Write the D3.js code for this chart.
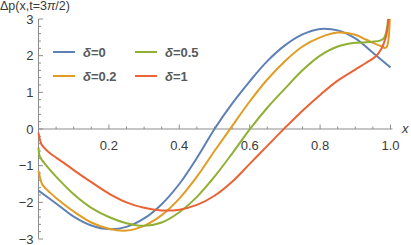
<!DOCTYPE html>
<html><head><meta charset="utf-8">
<script src="https://cdn.jsdelivr.net/npm/d3@7"></script>
<style>html,body{margin:0;padding:0;background:#fff;}svg{display:block;font-family:"Liberation Sans",Arial,sans-serif;}</style>
</head><body>
<svg id="c" width="411" height="245"></svg>
<script>
// ---- data ----
const seriesNames = ["δ=0", "δ=0.2", "δ=0.5", "δ=1"];
const seriesColors = ["#5E81B5", "#E19C24", "#8FB032", "#EB6235"];
const d0x = [0, 0.05, 0.1, 0.15, 0.2, 0.25, 0.3, 0.35, 0.4, 0.45, 0.5, 0.55, 0.6, 0.65, 0.7, 0.75, 0.8, 0.85, 0.9, 0.95, 1.0];
const d0y = [-1.68, -2.03, -2.39, -2.63, -2.73, -2.67, -2.44, -2.05, -1.50, -0.79, 0.0, 0.69, 1.30, 1.85, 2.28, 2.58, 2.73, 2.69, 2.47, 2.08, 1.68];
const d02x = [0, 0.005, 0.01, 0.02, 0.03, 0.05, 0.1, 0.15, 0.2, 0.25, 0.3, 0.35, 0.4, 0.45, 0.5, 0.55, 0.6, 0.65, 0.7, 0.75, 0.8, 0.85, 0.9, 0.93, 0.95, 0.97, 0.985, 0.99, 0.995, 0.998, 1.0];
const d02y = [-1.14, -1.35, -1.5, -1.62, -1.71, -1.88, -2.25, -2.55, -2.72, -2.77, -2.64, -2.35, -1.9, -1.3, -0.6, 0.08, 0.75, 1.35, 1.85, 2.25, 2.5, 2.63, 2.57, 2.44, 2.35, 2.27, 2.21, 2.25, 2.5, 3.0, 3.4];
const d05x = [0, 0.003, 0.01, 0.02, 0.05, 0.1, 0.15, 0.2, 0.25, 0.3, 0.35, 0.4, 0.45, 0.5, 0.55, 0.6, 0.65, 0.7, 0.75, 0.8, 0.85, 0.9, 0.95, 0.97, 0.98, 0.985, 0.99, 0.993, 1.0];
const d05y = [-0.5, -0.73, -0.85, -0.97, -1.3, -1.78, -2.15, -2.4, -2.57, -2.64, -2.55, -2.27, -1.85, -1.3, -0.67, -0.01, 0.58, 1.1, 1.6, 2.0, 2.25, 2.35, 2.38, 2.41, 2.46, 2.55, 2.75, 3.0, 3.6];
const d1x = [0, 0.003, 0.008, 0.015, 0.03, 0.05, 0.07, 0.1, 0.15, 0.2, 0.25, 0.3, 0.35, 0.4, 0.45, 0.5, 0.55, 0.6, 0.65, 0.7, 0.75, 0.8, 0.85, 0.9, 0.93, 0.96, 0.975, 0.985, 0.99, 0.995, 1.0];
const d1y = [-0.1, -0.25, -0.41, -0.5, -0.64, -0.78, -0.91, -1.12, -1.45, -1.76, -2.0, -2.15, -2.22, -2.2, -2.07, -1.82, -1.44, -0.95, -0.46, 0.03, 0.5, 0.93, 1.32, 1.62, 1.8, 2.0, 2.2, 2.45, 2.65, 3.0, 3.5];
const xTickLabels = ["0.2", "0.4", "0.6", "0.8", "1.0"];
const yTickLabels = ["-3", "-2", "-1", "0", "1", "2", "3"];

// ---- layout ----
const svg = d3.select("#c");
const x = d3.scaleLinear().domain([0, 1]).range([38.5, 390.5]);
const y = d3.scaleLinear().domain([-3, 3]).range([239, 19]);
const axisColor = "#8c8c8c";
const labelColor = "#3a3a3a";

svg.append("defs").append("clipPath").attr("id", "clip")
  .append("rect").attr("x", x(0) - 2).attr("y", y(3)).attr("width", x(1) - x(0) + 6).attr("height", y(-3) - y(3));

// x axis at y=0
const xAxisG = svg.append("g").attr("transform", `translate(0,${y(0)})`);
xAxisG.append("line").attr("x1", x(0)).attr("x2", x(1) + 2).attr("stroke", axisColor).attr("stroke-width", 1);
const xMinor = d3.range(1, 21).map(i => i * 0.05);
xAxisG.selectAll("line.t").data(xMinor).join("line").attr("class", "t")
  .attr("x1", d => x(d)).attr("x2", d => x(d))
  .attr("y1", 0).attr("y2", (d, i) => ((i + 1) % 4 === 0) ? -4.5 : -2.5)
  .attr("stroke", axisColor).attr("stroke-width", 1);
xAxisG.selectAll("text").data(xTickLabels).join("text")
  .attr("x", d => x(+d)).attr("y", 21)
  .attr("text-anchor", "middle").attr("font-size", 13).attr("fill", labelColor)
  .text(d => d);
svg.append("text").attr("x", 402).attr("y", y(0) + 4).attr("font-size", 13)
  .attr("font-style", "italic").attr("fill", labelColor).text("x");

// y axis at x=0
const yAxisG = svg.append("g").attr("transform", `translate(${x(0)},0)`);
yAxisG.append("line").attr("y1", y(-3)).attr("y2", y(3)).attr("stroke", axisColor).attr("stroke-width", 1);
const yMinor = d3.range(0, 31).map(i => -3 + i * 0.2);
yAxisG.selectAll("line.t").data(yMinor).join("line").attr("class", "t")
  .attr("y1", d => y(d)).attr("y2", d => y(d))
  .attr("x1", 0).attr("x2", (d, i) => (i % 5 === 0) ? 4.5 : 2.5)
  .attr("stroke", axisColor).attr("stroke-width", 1);
yAxisG.selectAll("text").data(yTickLabels).join("text")
  .attr("x", -5).attr("y", d => y(+d) + 4.5)
  .attr("text-anchor", "end").attr("font-size", 13).attr("fill", labelColor)
  .text(d => d.replace("-", "\u2212"));

// title
const tt = svg.append("text").attr("x", 0).attr("y", 10).attr("font-size", 12.5).attr("fill", labelColor);
tt.append("tspan").text("Δp(x,t=3");
tt.append("tspan").attr("font-style", "italic").text("π");
tt.append("tspan").text("/2)");

// curves
const seriesData = [
  d0x.map((v, i) => [v, d0y[i]]),
  d02x.map((v, i) => [v, d02y[i]]),
  d05x.map((v, i) => [v, d05y[i]]),
  d1x.map((v, i) => [v, d1y[i]])
];
const line = d3.line().x(d => x(d[0])).y(d => y(d[1])).curve(d3.curveCatmullRom.alpha(0.5));
const plot = svg.append("g").attr("clip-path", "url(#clip)");
plot.selectAll("path").data(seriesData).join("path")
  .attr("d", line).attr("fill", "none")
  .attr("stroke", (d, i) => seriesColors[i]).attr("stroke-width", 2)
  .attr("stroke-linejoin", "round");

// legend
const legPos = [[53, 52], [53, 76], [135, 52], [135, 76]];
const leg = svg.append("g");
seriesNames.forEach((n, i) => {
  const [lx, ly] = legPos[i];
  leg.append("line").attr("x1", lx).attr("x2", lx + 22).attr("y1", ly).attr("y2", ly)
    .attr("stroke", seriesColors[i]).attr("stroke-width", 2);
  const t = leg.append("text").attr("x", lx + 30).attr("y", ly + 5).attr("font-size", 13)
    .attr("font-weight", "bold").attr("fill", "#5a5a5a");
  t.append("tspan").attr("font-style", "italic").text("δ");
  t.append("tspan").text(n.slice(1));
});
</script>
</body></html>
